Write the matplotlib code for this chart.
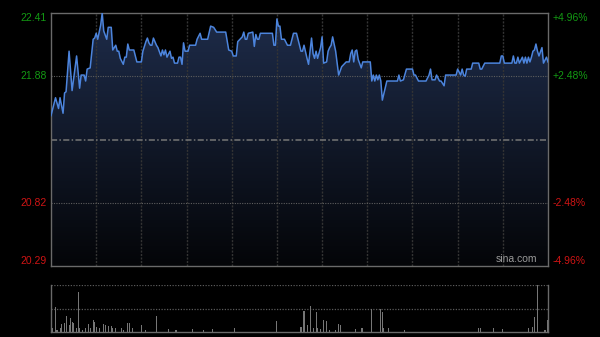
import matplotlib
matplotlib.use("Agg")
import matplotlib.pyplot as plt
import numpy as np
from matplotlib.patches import Polygon

plt.rcParams['font.family'] = ['Liberation Sans', 'DejaVu Sans']

# intraday ticks: minutes after the open and last price
minutes = [0, 3, 5, 6, 8, 9, 10, 12, 14, 17,
           19, 20, 22, 23, 24, 26, 28, 29, 30, 31,
           33, 34, 35, 37, 38, 40, 41, 43, 44, 45,
           46, 48, 49, 50, 51, 52, 55, 56, 57, 60,
           61, 63, 64, 65, 66, 67, 68, 70, 71, 73,
           74, 75, 76, 77, 79, 80, 81, 82, 84, 85,
           86, 87, 88, 89, 91, 92, 96, 97, 99, 100,
           104, 106, 108, 110, 116, 118, 120, 121, 123, 124,
           127, 128, 129, 130, 131, 134, 135, 136, 137, 138,
           139, 147, 148, 149, 150, 151, 152, 153, 155, 157,
           159, 161, 163, 164, 166, 167, 168, 170, 171, 173,
           174, 175, 176, 177, 179, 180, 181, 183, 184, 185,
           186, 187, 189, 191, 193, 196, 198, 199, 200, 201,
           202, 203, 204, 206, 207, 212, 213, 214, 215, 216,
           217, 218, 219, 220, 223, 230, 231, 232, 234, 236,
           240, 241, 242, 244, 249, 251, 252, 253, 255, 256,
           258, 259, 261, 262, 265, 269, 270, 272, 273, 274,
           275, 276, 279, 280, 284, 285, 286, 288, 298, 299,
           300, 301, 306, 307, 308, 309, 310, 311, 313, 314,
           315, 316, 317, 318, 319, 320, 321, 322, 323, 324,
           326, 327, 329, 330]
prices = [21.55, 21.70, 21.61, 21.70, 21.57, 21.74, 21.75, 22.09, 21.76, 22.05,
          21.78, 21.89, 21.89, 21.84, 21.94, 21.95, 22.19, 22.20, 22.24, 22.19,
          22.31, 22.41, 22.26, 22.19, 22.29, 22.29, 22.10, 22.14, 22.09, 22.09,
          22.03, 21.98, 22.04, 22.04, 22.15, 22.10, 22.10, 22.05, 22.00, 22.00,
          22.09, 22.17, 22.20, 22.16, 22.14, 22.14, 22.20, 22.14, 22.12, 22.05,
          22.10, 22.06, 22.10, 22.04, 22.09, 22.03, 22.04, 21.99, 21.99, 22.04,
          22.04, 21.98, 22.16, 22.09, 22.09, 22.14, 22.14, 22.19, 22.24, 22.19,
          22.19, 22.30, 22.29, 22.25, 22.25, 22.10, 22.09, 22.05, 22.05, 22.17,
          22.21, 22.25, 22.19, 22.19, 22.24, 22.25, 22.13, 22.23, 22.19, 22.19,
          22.24, 22.24, 22.14, 22.14, 22.36, 22.30, 22.30, 22.19, 22.19, 22.14,
          22.14, 22.24, 22.24, 22.19, 22.09, 22.09, 22.14, 22.03, 21.98, 22.20,
          22.07, 22.03, 22.09, 22.03, 22.12, 22.21, 21.99, 22.00, 22.09, 22.12,
          22.14, 22.21, 22.09, 21.89, 21.96, 22.00, 22.00, 22.07, 22.10, 22.00,
          22.09, 22.10, 22.02, 21.95, 22.00, 22.00, 21.84, 21.89, 21.84, 21.89,
          21.85, 21.89, 21.84, 21.68, 21.84, 21.84, 21.89, 21.84, 21.85, 21.94,
          21.94, 21.89, 21.89, 21.84, 21.84, 21.89, 21.94, 21.85, 21.85, 21.89,
          21.84, 21.84, 21.80, 21.89, 21.89, 21.89, 21.94, 21.89, 21.94, 21.89,
          21.88, 21.94, 21.94, 21.99, 21.99, 21.94, 21.94, 21.99, 21.99, 22.05,
          22.05, 21.99, 21.99, 22.05, 21.99, 21.99, 22.04, 21.99, 22.04, 21.99,
          22.04, 21.99, 22.04, 22.00, 22.04, 22.09, 22.10, 22.15, 22.09, 22.05,
          22.12, 21.99, 22.04, 22.00]

# volume bars (relative units)
vol_minutes = [1, 3, 4, 6, 7, 9, 10, 12, 13, 14,
               15, 17, 18, 19, 21, 23, 25, 26, 28, 29,
               30, 32, 35, 36, 38, 40, 41, 43, 47, 48,
               51, 52, 54, 60, 63, 70, 78, 83, 94, 101,
               107, 122, 150, 166, 168, 170, 172, 174, 176, 177,
               179, 181, 183, 185, 189, 191, 192, 202, 206, 207,
               213, 219, 220, 221, 224, 235, 284, 285, 294, 300,
               317, 320, 321, 323, 328, 330]
volumes = [12, 75, 7, 14, 24, 27, 50, 22, 44, 32,
           27, 12, 120, 12, 7, 12, 24, 14, 37, 30,
           17, 12, 24, 22, 20, 20, 14, 12, 12, 7,
           27, 27, 12, 22, 7, 50, 10, 7, 10, 7,
           10, 14, 34, 17, 64, 22, 79, 12, 62, 14,
           10, 37, 34, 7, 7, 24, 22, 10, 14, 14,
           69, 70, 62, 14, 12, 7, 14, 14, 12, 10,
           12, 17, 47, 142, 7, 37]

prev_close = 21.35
left_labels = ['22.41', '21.88', '20.82', '20.29']
left_values = [22.41, 21.88, 20.82, 20.29]
right_labels = ['+4.96%', '+2.48%', '-2.48%', '-4.96%']
session_len = 330
grid_step = 30

lo, hi = 20.29, 22.41
green = '#139a13'
red = '#cf1414'
frame = '#6a6a6a'

fig = plt.figure(figsize=(6, 3.37), dpi=100, facecolor='black')
ax = fig.add_axes([51 / 600, 71 / 337, 497 / 600, 253 / 337])
ax.set_facecolor('black')
ax.set_xlim(0, session_len)
ax.set_ylim(lo, hi)

# gradient fill under the price line
grad = np.linspace(0, 1, 256).reshape(-1, 1)
top_c = np.array([30, 44, 74]) / 255.0
bot_c = np.array([4, 5, 8]) / 255.0
img = top_c * (1 - grad[..., None]) + bot_c * grad[..., None]
img = img.reshape(256, 1, 3)
im = ax.imshow(img, extent=[0, session_len, lo, hi], aspect='auto',
               origin='upper', zorder=1)
verts = list(zip(minutes, prices)) + [(minutes[-1], lo), (minutes[0], lo)]
clip = Polygon(verts, closed=True, transform=ax.transData)
im.set_clip_path(clip)

# grid
for m in range(grid_step, session_len, grid_step):
    ax.axvline(m, color='#343434', lw=1.0, ls=(0, (1.5, 1)), zorder=2)
for v in [21.88, 20.82]:
    ax.axhline(v, color='#5e5e5e', lw=0.8, ls=(0, (1, 1.2)), zorder=2)
ax.axhline(prev_close, color='#767676', lw=1.1, ls=(0, (4, 1.5, 1, 1.5)), zorder=2)

ax.plot(minutes, prices, color='#4c84dc', lw=1.1, zorder=3)

for s in ax.spines.values():
    s.set_color(frame)
    s.set_linewidth(1.0)
ax.set_xticks([])
ax.set_yticks([])

ytr = ax.get_yaxis_transform()
vas = ['top', 'center', 'center', 'bottom']
for lab, val, rlab, va in zip(left_labels, left_values, right_labels, vas):
    col = green if val > prev_close else red
    ax.text(-4 / 497, val, lab, transform=ytr, ha='right', va=va,
            color=col, fontsize=7.5)
    ax.text(1 + 5 / 497, val, rlab, transform=ytr, ha='left', va=va,
            color=col, fontsize=7.5)

ax.text(0.978, 0.006, 'sina.com', transform=ax.transAxes, ha='right',
        va='bottom', color='#9a9a9a', fontsize=7.5, zorder=4)

# volume panel
vax = fig.add_axes([51 / 600, 4.7 / 337, 497 / 600, 47.3 / 337])
vax.set_facecolor('black')
vax.set_xlim(0, session_len)
vax.set_ylim(0, 142)
vax.bar(vol_minutes, volumes, width=0.7, color='#767676', zorder=2)
vax.axhline(71, color='#5a5a5a', lw=0.9, ls=(0, (1, 1.2)), zorder=1)
vax.axhline(142, color='#5a5a5a', lw=0.9, ls=(0, (1, 1.2)), zorder=1)
vax.spines['top'].set_visible(False)
for k in ['left', 'right', 'bottom']:
    vax.spines[k].set_color(frame)
    vax.spines[k].set_linewidth(1.0)
vax.set_xticks([])
vax.set_yticks([])

fig.savefig('out.png', dpi=100, facecolor='black')
